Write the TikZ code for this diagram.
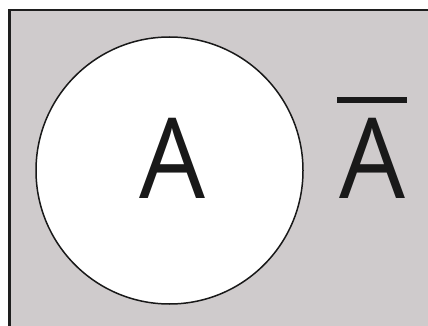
\documentclass[tikz,border=0pt]{standalone}
\usepackage{fontspec}
\setmainfont{Open Sans}
\definecolor{bggray}{RGB}{207,203,204}
\definecolor{frameline}{RGB}{30,30,30}
\definecolor{ink}{RGB}{25,25,25}
\begin{document}
\begin{tikzpicture}[x=1pt,y=-1pt,
  letter/.style={inner sep=0pt, anchor=base, text=ink, xscale=0.93,
    font=\fontsize{112}{112}\selectfont}]
\useasboundingbox (0,0) rectangle (428,326);
\fill[white] (0,0) rectangle (428,326);
\clip (0,0) rectangle (428,326);
\draw[line width=2.5pt, draw=frameline, fill=bggray] (9.5,10) rectangle (440,340);
\node[circle, draw=ink, fill=white, line width=1.5pt, minimum size=267pt, inner sep=0pt] (setA) at (169.5,170.5) {};
\node[letter] (lblA) at (172,198) {A};
\node[letter] (lblAc) at (372.5,198) {A};
\fill[ink] (337,97) rectangle (407,103);
\end{tikzpicture}
\end{document}
